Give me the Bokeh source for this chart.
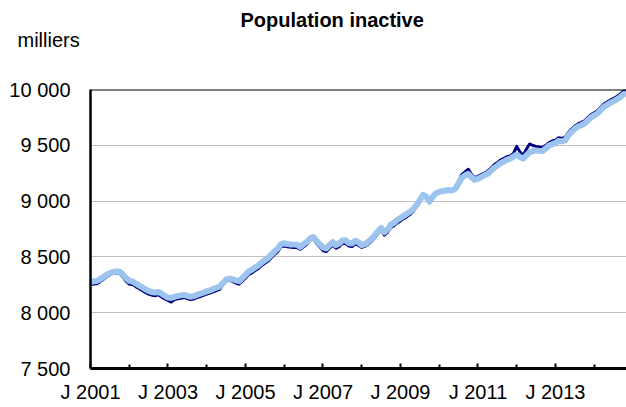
from bokeh.plotting import figure
from bokeh.models import Range1d, FixedTicker, Span, Title
from bokeh.layouts import column
from bokeh.embed import file_html
from bokeh.resources import INLINE

# Monthly data, Jan 2001 (index 0) onward, thousands
months = list(range(167))

series_b = [  # light blue series
    8275, 8282, 8285, 8300, 8320, 8340, 8355, 8365, 8370, 8368, 8345, 8310,
    8285, 8280, 8262, 8245, 8228, 8210, 8195, 8185, 8180, 8186, 8170, 8152,
    8135, 8132, 8142, 8150, 8155, 8160, 8152, 8142, 8148, 8160, 8170, 8180,
    8192, 8200, 8212, 8223, 8235, 8265, 8298, 8305, 8300, 8290, 8282, 8310,
    8340, 8370, 8385, 8405, 8425, 8450, 8470, 8490, 8520, 8550, 8575, 8615,
    8622, 8615, 8612, 8610, 8608, 8590, 8615, 8635, 8665, 8678, 8645, 8615,
    8585, 8575, 8605, 8632, 8605, 8620, 8648, 8650, 8625, 8620, 8645, 8630,
    8605, 8615, 8635, 8660, 8690, 8730, 8760, 8720, 8745, 8790, 8805, 8830,
    8848, 8868, 8886, 8905, 8930, 8965, 9010, 9055, 9040, 8995, 9040, 9070,
    9082, 9090, 9095, 9100, 9098, 9110, 9160, 9210, 9230, 9245, 9215, 9190,
    9200, 9215, 9230, 9245, 9270, 9298, 9318, 9340, 9355, 9372, 9380, 9400,
    9418, 9395, 9380, 9410, 9438, 9448, 9453, 9450, 9448, 9472, 9498, 9510,
    9520, 9540, 9535, 9545, 9590, 9620, 9648, 9668, 9680, 9695, 9722, 9750,
    9768, 9785, 9815, 9845, 9862, 9880, 9895, 9912, 9930, 9955, 9968,
]

series_a = [  # dark navy series
    8250, 8257, 8260, 8278, 8300, 8322, 8340, 8353, 8358, 8353, 8323, 8282,
    8257, 8252, 8234, 8217, 8200, 8182, 8167, 8157, 8152, 8160, 8142, 8124,
    8110, 8095, 8117, 8125, 8130, 8135, 8127, 8117, 8123, 8135, 8145, 8155,
    8167, 8175, 8187, 8198, 8210, 8250, 8283, 8290, 8280, 8265, 8255, 8282,
    8312, 8342, 8357, 8377, 8397, 8422, 8442, 8462, 8492, 8522, 8547, 8590,
    8597, 8590, 8587, 8585, 8583, 8568, 8590, 8612, 8650, 8665, 8622, 8590,
    8557, 8547, 8577, 8606, 8577, 8592, 8620, 8622, 8597, 8592, 8617, 8602,
    8585, 8595, 8615, 8640, 8670, 8708, 8740, 8695, 8720, 8765, 8780, 8805,
    8823, 8843, 8861, 8880, 8910, 8955, 9000, 9060, 9035, 8985, 9030, 9060,
    9078, 9088, 9095, 9102, 9102, 9118, 9180, 9238, 9262, 9285, 9240, 9210,
    9222, 9238, 9252, 9268, 9295, 9325, 9345, 9368, 9382, 9398, 9405, 9428,
    9490, 9440, 9410, 9465, 9512, 9498, 9490, 9485, 9480, 9500, 9525, 9538,
    9545, 9568, 9562, 9572, 9615, 9645, 9672, 9692, 9705, 9720, 9748, 9775,
    9792, 9810, 9840, 9870, 9888, 9905, 9920, 9938, 9958, 9982, 10000,
]

x_tick_pos = [0, 24, 48, 72, 96, 120, 144]
x_tick_labels = ["J 2001", "J 2003", "J 2005", "J 2007", "J 2009", "J 2011", "J 2013"]
x_minor_pos = [12, 36, 60, 84, 108, 132, 156]
y_tick_pos = [7500, 8000, 8500, 9000, 9500, 10000]
y_tick_labels = ["7 500", "8 000", "8 500", "9 000", "9 500", "10 000"]

title_text = "Population inactive"
unit_text = "milliers"

FONT = "Liberation Sans"
HEAD_H = 60

# header strip: holds the chart title and the unit label as titles
head = figure(width=626, height=HEAD_H, output_backend="svg", toolbar_location=None,
              x_range=Range1d(0, 1), y_range=Range1d(0, 1),
              x_axis_type=None, y_axis_type=None,
              min_border_left=90, min_border_right=0, min_border_top=46,
              min_border_bottom=0, title_location=None)
head.outline_line_color = None
head.background_fill_color = "white"
head.border_fill_color = "white"
head.add_layout(Title(text=unit_text, align="left", offset=-73, standoff=-8,
                      text_font=FONT, text_font_size="20px", text_font_style="normal",
                      text_color="black"), "above")
head.add_layout(Title(text=title_text, align="left", offset=150, standoff=0,
                      text_font=FONT, text_font_size="20px", text_font_style="bold",
                      text_color="black"), "above")

p = figure(width=626, height=407 - HEAD_H, output_backend="svg", toolbar_location=None,
           x_range=Range1d(0, 166), y_range=Range1d(7500, 10000),
           min_border_left=90, min_border_right=0, min_border_top=89 - HEAD_H,
           min_border_bottom=39, title_location=None)
p.outline_line_color = None
p.background_fill_color = "white"
p.border_fill_color = "white"

p.line(months, series_a, line_color="#000080", line_width=3, line_join="round")
p.line(months, series_b, line_color="#9CC4EE", line_width=6, line_join="round")

p.add_layout(Span(location=10000, dimension="width", line_color="black", line_width=2))

# x axis
xa = p.xaxis[0]
xa.ticker = FixedTicker(ticks=x_tick_pos, minor_ticks=x_minor_pos)
xa.major_label_overrides = {k: v for k, v in zip(x_tick_pos, x_tick_labels)}
xa.axis_line_color = "black"
xa.axis_line_width = 3
xa.major_tick_in = 5
xa.major_tick_out = 0
xa.minor_tick_in = 4
xa.minor_tick_out = 0
xa.major_tick_line_width = 2
xa.minor_tick_line_width = 2
xa.major_tick_line_color = "black"
xa.minor_tick_line_color = "black"
xa.major_label_text_font = FONT
xa.major_label_text_font_size = "20px"
xa.major_label_text_color = "black"
xa.major_label_standoff = 12

# y axis
ya = p.yaxis[0]
ya.ticker = FixedTicker(ticks=y_tick_pos)
ya.major_label_overrides = {k: v for k, v in zip(y_tick_pos, y_tick_labels)}
ya.axis_line_color = "black"
ya.axis_line_width = 2.5
ya.major_tick_in = 0
ya.major_tick_out = 0
ya.minor_tick_line_color = None
ya.major_label_text_font = FONT
ya.major_label_text_font_size = "20px"
ya.major_label_text_color = "black"
ya.major_label_standoff = 20

p.ygrid.grid_line_color = "#C0C0C0"
p.ygrid.grid_line_width = 1
p.xgrid.grid_line_color = None

layout = column(head, p, spacing=0)

open("out.html", "w").write(file_html(layout, INLINE))
